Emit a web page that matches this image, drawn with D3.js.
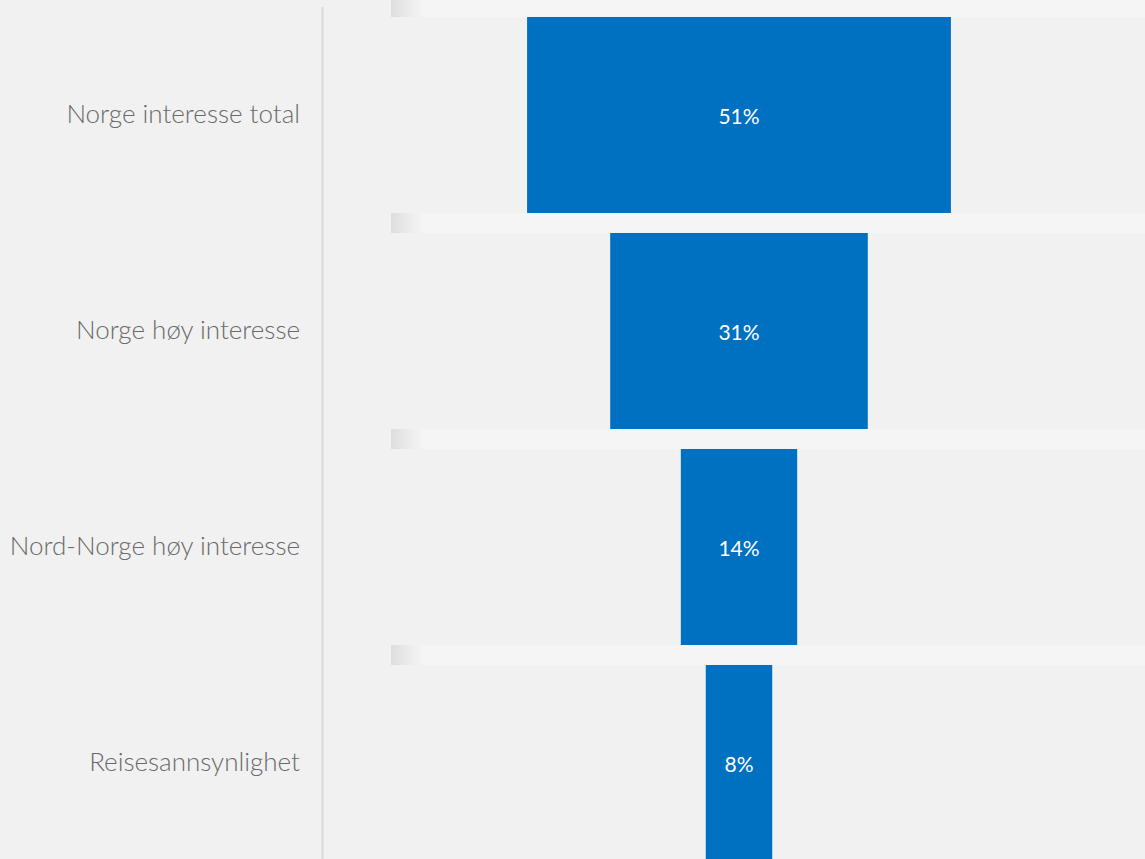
<!DOCTYPE html>
<html><head><meta charset="utf-8">
<script src="https://cdn.jsdelivr.net/npm/d3@7/dist/d3.min.js"></script>
<style>html,body{margin:0;padding:0;background:#f1f1f1;overflow:hidden}</style>
</head><body>
<svg id="c" width="1145" height="859"></svg>
<script>
const categories = ["Norge interesse total", "Norge høy interesse", "Nord-Norge høy interesse", "Reisesannsynlighet"];
const values = [51, 31, 14, 8];
const valueLabels = ["51%", "31%", "14%", "8%"];

const W = 1145, H = 859;
const svg = d3.select("#c");
svg.append("rect").attr("width", W).attr("height", H).attr("fill", "#f1f1f1");

const defs = svg.append("defs");
const g = defs.append("linearGradient").attr("id", "sh").attr("x1", 0).attr("x2", 1);
g.append("stop").attr("offset", 0).attr("stop-color", "#dedede");
g.append("stop").attr("offset", 1).attr("stop-color", "#f5f5f5");

const y = d3.scaleBand().domain(categories).range([-3, -3 + 216 * 4]).paddingInner(0).paddingOuter(0);
const stripH = 20;
const cx = 739;
const x = d3.scaleLinear().domain([0, 100]).range([0, 831]);

// strips
const rows = svg.selectAll("g.row").data(categories).join("g").attr("class", "row");
rows.append("rect").attr("x", 391).attr("y", d => y(d)).attr("width", W - 391).attr("height", stripH).attr("fill", "#f5f5f5");
rows.append("rect").attr("x", 391).attr("y", d => y(d)).attr("width", 32).attr("height", stripH).attr("fill", "url(#sh)");

// bars
svg.selectAll("rect.bar").data(values).join("rect").attr("class", "bar")
  .attr("x", d => cx - x(d) / 2)
  .attr("y", (d, i) => y(categories[i]) + stripH)
  .attr("width", d => x(d))
  .attr("height", y.bandwidth() - stripH)
  .attr("fill", "#0070c0");

svg.selectAll("text.val").data(valueLabels).join("text").attr("class", "val")
  .attr("x", cx)
  .attr("y", (d, i) => y(categories[i]) + stripH + (y.bandwidth() - stripH) / 2 + 2)
  .attr("dy", "0.35em")
  .attr("text-anchor", "middle")
  .attr("fill", "#fff")
  .style("font-family", "Lato, 'Open Sans', sans-serif")
  .style("font-size", "21px")
  .text(d => d);

// axis line
svg.append("line").attr("x1", 322.5).attr("x2", 322.5).attr("y1", 7).attr("y2", H).attr("stroke", "#d9d9d9").attr("stroke-width", 2);

// category labels
const axis = d3.axisLeft(y).tickSize(0).tickPadding(0);
const ag = svg.append("g").attr("transform", "translate(300,10)").call(axis);
ag.select(".domain").remove();
ag.selectAll("text")
  .attr("fill", "#6a6a6a")
  .style("font-family", "Lato, 'Open Sans', sans-serif")
  .style("font-weight", 300)
  .style("font-size", "26px");
</script>
</body></html>
